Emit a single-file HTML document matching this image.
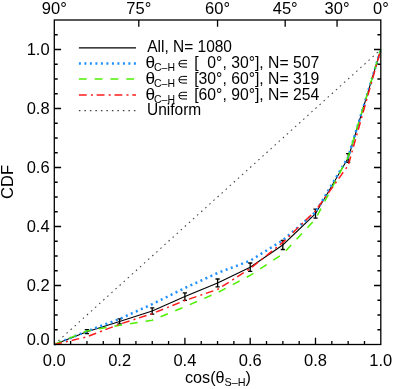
<!DOCTYPE html><html><head><meta charset="utf-8"><title>CDF</title>
<style>html,body{margin:0;padding:0;background:#fff}svg{display:block;will-change:transform}text{font-family:"Liberation Sans",sans-serif;fill:#000}</style>
</head><body>
<svg width="393" height="389" viewBox="0 0 393 389">
<rect width="393" height="389" fill="#fff"/>
<line x1="54.3" y1="344.5" x2="380.8" y2="49.5" stroke="#404040" stroke-width="1.05" stroke-dasharray="1.5,4" />
<polyline points="54.3,344.5 86.9,331.7 119.6,321.4 152.2,311.0 184.9,296.6 217.6,282.9 250.2,267.2 282.8,245.0 315.5,213.7 348.2,158.0 380.8,49.5" fill="none" stroke="#000" stroke-width="1.05"/>
<path d="M86.9,329.7V333.7M84.8,329.7H89.0M84.8,333.7H89.0" stroke="#000" stroke-width="1.3" fill="none"/>
<path d="M119.6,318.8V323.9M117.5,318.8H121.7M117.5,323.9H121.7" stroke="#000" stroke-width="1.3" fill="none"/>
<path d="M152.2,307.9V314.1M150.2,307.9H154.3M150.2,314.1H154.3" stroke="#000" stroke-width="1.3" fill="none"/>
<path d="M184.9,292.9V300.3M182.8,292.9H187.0M182.8,300.3H187.0" stroke="#000" stroke-width="1.3" fill="none"/>
<path d="M217.6,279.0V286.8M215.5,279.0H219.7M215.5,286.8H219.7" stroke="#000" stroke-width="1.3" fill="none"/>
<path d="M250.2,263.0V271.4M248.1,263.0H252.3M248.1,271.4H252.3" stroke="#000" stroke-width="1.3" fill="none"/>
<path d="M282.8,240.5V249.5M280.7,240.5H284.9M280.7,249.5H284.9" stroke="#000" stroke-width="1.3" fill="none"/>
<path d="M315.5,209.2V218.2M313.4,209.2H317.6M313.4,218.2H317.6" stroke="#000" stroke-width="1.3" fill="none"/>
<path d="M348.2,153.6V162.4M346.1,153.6H350.3M346.1,162.4H350.3" stroke="#000" stroke-width="1.3" fill="none"/>
<polyline points="54.3,344.5 86.9,331.3 119.6,318.9 152.2,304.2 184.9,288.0 217.6,273.0 250.2,260.7 282.8,240.3 315.5,212.1 348.2,157.1 380.8,49.5" fill="none" stroke="#1e90ff" stroke-width="2.5" stroke-dasharray="2,3.5"/>
<polyline points="54.3,344.5 86.9,330.9 119.6,325.3 152.2,320.2 184.9,306.8 217.6,292.6 250.2,275.4 282.8,254.0 315.5,219.0 348.2,157.0 380.8,49.5" fill="none" stroke="#4ef000" stroke-width="1.5" stroke-dasharray="7.8,8"/>
<polyline points="54.3,344.5 86.9,336.8 119.6,324.2 152.2,313.6 184.9,300.5 217.6,289.4 250.2,268.6 282.8,242.4 315.5,210.8 348.2,165.4 380.8,49.5" fill="none" stroke="#ff1a1a" stroke-width="1.5" stroke-dasharray="7.8,4.2,2,3.8"/>
<rect x="54.3" y="20.0" width="326.5" height="324.5" fill="none" stroke="#000" stroke-width="1.3"/>
<path d="M70.62,344.5v-3.4M86.95,344.5v-3.4M103.28,344.5v-3.4M119.60,344.5v-6.8M135.93,344.5v-3.4M152.25,344.5v-3.4M168.57,344.5v-3.4M184.90,344.5v-6.8M201.23,344.5v-3.4M217.55,344.5v-3.4M233.88,344.5v-3.4M250.20,344.5v-6.8M266.52,344.5v-3.4M282.85,344.5v-3.4M299.18,344.5v-3.4M315.50,344.5v-6.8M331.83,344.5v-3.4M348.15,344.5v-3.4M364.48,344.5v-3.4M54.3,329.75h3.4M380.8,329.75h-3.4M54.3,315.00h3.4M380.8,315.00h-3.4M54.3,300.25h3.4M380.8,300.25h-3.4M54.3,285.50h6.8M380.8,285.50h-6.8M54.3,270.75h3.4M380.8,270.75h-3.4M54.3,256.00h3.4M380.8,256.00h-3.4M54.3,241.25h3.4M380.8,241.25h-3.4M54.3,226.50h6.8M380.8,226.50h-6.8M54.3,211.75h3.4M380.8,211.75h-3.4M54.3,197.00h3.4M380.8,197.00h-3.4M54.3,182.25h3.4M380.8,182.25h-3.4M54.3,167.50h6.8M380.8,167.50h-6.8M54.3,152.75h3.4M380.8,152.75h-3.4M54.3,138.00h3.4M380.8,138.00h-3.4M54.3,123.25h3.4M380.8,123.25h-3.4M54.3,108.50h6.8M380.8,108.50h-6.8M54.3,93.75h3.4M380.8,93.75h-3.4M54.3,79.00h3.4M380.8,79.00h-3.4M54.3,64.25h3.4M380.8,64.25h-3.4M54.3,49.50h6.8M380.8,49.50h-6.8M54.3,34.75h3.4M380.8,34.75h-3.4M138.80,20.0v6.8M217.55,20.0v6.8M285.17,20.0v6.8M337.06,20.0v6.8" stroke="#000" stroke-width="1.3" fill="none"/>
<text x="54.3" y="365.5" font-size="16.5" text-anchor="middle">0.0</text>
<text x="49.6" y="344.5" font-size="16.5" text-anchor="end">0.0</text>
<text x="119.6" y="365.5" font-size="16.5" text-anchor="middle">0.2</text>
<text x="49.6" y="291.0" font-size="16.5" text-anchor="end">0.2</text>
<text x="184.9" y="365.5" font-size="16.5" text-anchor="middle">0.4</text>
<text x="49.6" y="232.0" font-size="16.5" text-anchor="end">0.4</text>
<text x="250.2" y="365.5" font-size="16.5" text-anchor="middle">0.6</text>
<text x="49.6" y="173.0" font-size="16.5" text-anchor="end">0.6</text>
<text x="315.5" y="365.5" font-size="16.5" text-anchor="middle">0.8</text>
<text x="49.6" y="114.0" font-size="16.5" text-anchor="end">0.8</text>
<text x="380.8" y="365.5" font-size="16.5" text-anchor="middle">1.0</text>
<text x="49.6" y="55.0" font-size="16.5" text-anchor="end">1.0</text>
<text x="54.3" y="13.6" font-size="16.5" text-anchor="middle">90°</text>
<text x="138.8" y="13.6" font-size="16.5" text-anchor="middle">75°</text>
<text x="217.6" y="13.6" font-size="16.5" text-anchor="middle">60°</text>
<text x="285.2" y="13.6" font-size="16.5" text-anchor="middle">45°</text>
<text x="337.1" y="13.6" font-size="16.5" text-anchor="middle">30°</text>
<text x="381.0" y="13.6" font-size="16.5" text-anchor="middle">0°</text>
<text x="185.0" y="383.2" font-size="16.2">cos(θ<tspan font-size="10.8" dy="3">S–H</tspan><tspan dy="-3">)</tspan></text>
<text transform="translate(13.3,182) rotate(-90)" font-size="16.5" text-anchor="middle">CDF</text>
<line x1="78.9" y1="47.8" x2="136.0" y2="47.8" stroke="#000" stroke-width="1.3"/>
<line x1="78.9" y1="63.4" x2="136.0" y2="63.4" stroke="#1e90ff" stroke-width="2.5" stroke-dasharray="2,3.5"/>
<line x1="78.9" y1="79.0" x2="136.0" y2="79.0" stroke="#4ef000" stroke-width="1.6" stroke-dasharray="7.8,8"/>
<line x1="78.9" y1="95.0" x2="136.0" y2="95.0" stroke="#ff1a1a" stroke-width="1.6" stroke-dasharray="7.8,4.2,2,3.8"/>
<line x1="78.9" y1="110.6" x2="136.0" y2="110.6" stroke="#404040" stroke-width="1.05" stroke-dasharray="1.5,4"/>
<text transform="translate(147.2,51.5) scale(1,1.0968)" font-size="15.5" >All, N= 1080</text>
<text transform="translate(145.5,67.6) scale(1,1.0692)" font-size="15.9" textLength="9.6" lengthAdjust="spacingAndGlyphs">θ</text><text transform="translate(154.0,70.6) scale(1,1.1200)" font-size="10.5" >C–H</text><path d="M187,60.40H182.25A3.35,3.35 0 0 0 182.25,67.10H187M178.9,63.75H187" fill="none" stroke="#000" stroke-width="1"/><text transform="translate(194.2,67.6) scale(1,1.0780)" font-size="15.77" xml:space="preserve" style="white-space:pre">[  0°, 30°], N= 507</text>
<text transform="translate(145.5,83.6) scale(1,1.0692)" font-size="15.9" textLength="9.6" lengthAdjust="spacingAndGlyphs">θ</text><text transform="translate(154.0,86.6) scale(1,1.1200)" font-size="10.5" >C–H</text><path d="M187,76.40H182.25A3.35,3.35 0 0 0 182.25,83.10H187M178.9,79.75H187" fill="none" stroke="#000" stroke-width="1"/><text transform="translate(194.2,83.6) scale(1,1.0780)" font-size="15.77" xml:space="preserve" style="white-space:pre">[30°, 60°], N= 319</text>
<text transform="translate(145.5,99.5) scale(1,1.0692)" font-size="15.9" textLength="9.6" lengthAdjust="spacingAndGlyphs">θ</text><text transform="translate(154.0,102.5) scale(1,1.1200)" font-size="10.5" >C–H</text><path d="M187,92.30H182.25A3.35,3.35 0 0 0 182.25,99.00H187M178.9,95.65H187" fill="none" stroke="#000" stroke-width="1"/><text transform="translate(194.2,99.5) scale(1,1.0780)" font-size="15.77" xml:space="preserve" style="white-space:pre">[60°, 90°], N= 254</text>
<text transform="translate(147.0,115.4) scale(1,1.0968)" font-size="15.5" >Uniform</text>
</svg></body></html>
